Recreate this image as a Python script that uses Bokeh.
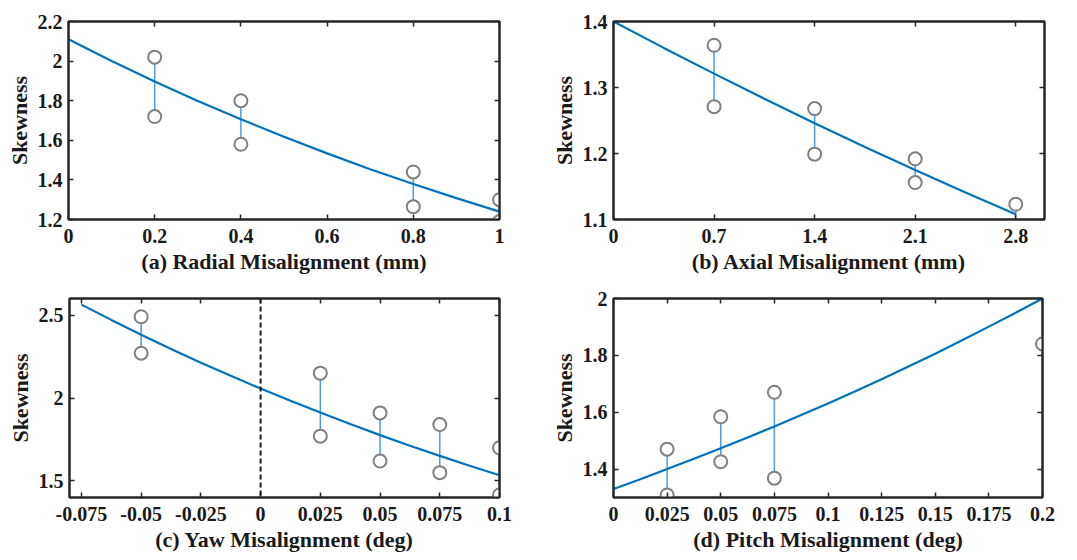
from bokeh.plotting import figure
from bokeh.models import LinearAxis, FixedTicker, Span, Range1d, CustomLabelingPolicy
from bokeh.layouts import column, row
from bokeh.embed import file_html
from bokeh.resources import INLINE

# ---------------- data ----------------
# (a) Radial misalignment
radial_x = [0.2, 0.4, 0.8, 1.0]
radial_upper = [2.02, 1.80, 1.44, 1.30]
radial_lower = [1.72, 1.58, 1.265, 1.19]
radial_fit_x = [0.0, 0.1, 0.2, 0.3, 0.4, 0.5, 0.6, 0.7, 0.8, 0.9, 1.0]
radial_fit_y = [2.110, 2.001, 1.897, 1.799, 1.706, 1.618, 1.534, 1.454, 1.379, 1.308, 1.240]
radial_xticks = [0, 0.2, 0.4, 0.6, 0.8, 1]
radial_xlabels = ["0", "0.2", "0.4", "0.6", "0.8", "1"]
radial_yticks = [1.2, 1.4, 1.6, 1.8, 2.0, 2.2]
radial_ylabels = ["1.2", "1.4", "1.6", "1.8", "2", "2.2"]

# (b) Axial misalignment
axial_x = [0.7, 1.4, 2.1, 2.8]
axial_upper = [1.364, 1.268, 1.192, 1.123]
axial_lower = [1.271, 1.199, 1.156, 1.078]
axial_fit_x = [0.0, 0.35, 0.7, 1.05, 1.4, 1.75, 2.1, 2.45, 2.8]
axial_fit_y = [1.400, 1.360, 1.321, 1.283, 1.246, 1.210, 1.175, 1.141, 1.108]
axial_xticks = [0, 0.7, 1.4, 2.1, 2.8]
axial_xlabels = ["0", "0.7", "1.4", "2.1", "2.8"]
axial_yticks = [1.1, 1.2, 1.3, 1.4]
axial_ylabels = ["1.1", "1.2", "1.3", "1.4"]

# (c) Yaw misalignment
yaw_x = [-0.05, 0.025, 0.05, 0.075, 0.1]
yaw_upper = [2.49, 2.15, 1.91, 1.84, 1.70]
yaw_lower = [2.27, 1.77, 1.62, 1.55, 1.415]
yaw_fit_x = [-0.075, -0.0625, -0.05, -0.0375, -0.025, -0.0125, 0.0, 0.0125,
             0.025, 0.0375, 0.05, 0.0625, 0.075, 0.0875, 0.1]
yaw_fit_y = [2.563, 2.471, 2.382, 2.296, 2.213, 2.134, 2.057, 1.983,
             1.912, 1.843, 1.776, 1.712, 1.651, 1.591, 1.534]
yaw_ref = 0.0
yaw_xticks = [-0.075, -0.05, -0.025, 0, 0.025, 0.05, 0.075, 0.1]
yaw_xlabels = ["-0.075", "-0.05", "-0.025", "0", "0.025", "0.05", "0.075", "0.1"]
yaw_yticks = [1.5, 2.0, 2.5]
yaw_ylabels = ["1.5", "2", "2.5"]

# (d) Pitch misalignment
pitch_x = [0.025, 0.05, 0.075, 0.2]
pitch_upper = [1.47, 1.584, 1.67, 2.055]
pitch_lower = [1.309, 1.426, 1.368, 1.84]
pitch_fit_x = [0.0, 0.0125, 0.025, 0.0375, 0.05, 0.0625, 0.075, 0.0875, 0.1,
               0.1125, 0.125, 0.1375, 0.15, 0.1625, 0.175, 0.1875, 0.2]
pitch_fit_y = [1.330, 1.364, 1.400, 1.436, 1.473, 1.511, 1.550, 1.590, 1.631,
               1.673, 1.716, 1.761, 1.806, 1.853, 1.901, 1.950, 2.000]
pitch_xticks = [0, 0.025, 0.05, 0.075, 0.1, 0.125, 0.15, 0.175, 0.2]
pitch_xlabels = ["0", "0.025", "0.05", "0.075", "0.1", "0.125", "0.15", "0.175", "0.2"]
pitch_yticks = [1.4, 1.6, 1.8, 2.0]
pitch_ylabels = ["1.4", "1.6", "1.8", "2"]

FONT = "Liberation Serif"
AX_COLOR = "#262626"
FIT_COLOR = "#0072BD"
BAR_COLOR = "#4d9be3"
CIRC_COLOR = "#808080"
TICK_FS = "20px"
LABEL_FS = "22px"


def style_axis(ax, ticks, labels, show_labels, label_text=None):
    ax.ticker = FixedTicker(ticks=ticks)
    ax.major_label_overrides = {t: l for t, l in zip(ticks, labels)}
    ax.minor_tick_line_color = None
    ax.major_tick_in = 5
    ax.major_tick_out = 0
    ax.major_tick_line_color = AX_COLOR
    ax.major_tick_line_width = 1.5
    ax.axis_line_color = AX_COLOR
    ax.axis_line_width = 2
    ax.major_label_text_font = FONT
    ax.major_label_text_font_style = "bold"
    ax.major_label_text_color = "#1a1a1a"
    if show_labels:
        ax.major_label_text_font_size = TICK_FS
    else:
        ax.major_label_text_font_size = "1px"
        ax.major_label_standoff = 0
        ax.major_label_policy = CustomLabelingPolicy(
            code="for (const i of indices) { indices.unset(i) }\nreturn indices")
    ax.axis_label = label_text
    ax.axis_label_text_font = FONT
    ax.axis_label_text_font_style = "bold"
    ax.axis_label_text_font_size = LABEL_FS
    ax.axis_label_text_color = "#1a1a1a"


def panel(xr, yr, xt, xl, yt, yl, xlabel, x, up, lo, fx, fy,
          w, h, bl, br, bt, bb):
    p = figure(width=w, height=h, output_backend="svg", toolbar_location=None,
               x_range=Range1d(*xr), y_range=Range1d(*yr),
               min_border_left=bl, min_border_right=br,
               min_border_top=bt, min_border_bottom=bb)
    p.grid.visible = False
    p.outline_line_color = AX_COLOR
    p.outline_line_width = 2
    p.background_fill_color = "white"
    p.border_fill_color = "white"
    style_axis(p.xaxis[0], xt, xl, True, xlabel)
    p.xaxis[0].major_label_standoff = 9
    p.xaxis[0].axis_label_standoff = 3
    style_axis(p.yaxis[0], yt, yl, True, "Skewness")
    p.yaxis[0].major_label_standoff = 6
    p.yaxis[0].axis_label_standoff = 3
    top = LinearAxis()
    style_axis(top, xt, xl, False)
    p.add_layout(top, "above")
    right = LinearAxis()
    style_axis(right, yt, yl, False)
    p.add_layout(right, "right")
    p.segment(x0=x, y0=lo, x1=x, y1=up, line_color=BAR_COLOR, line_width=1.5)
    p.line(fx, fy, line_color=FIT_COLOR, line_width=2.2)
    p.scatter(x + x, up + lo, size=13, marker="circle", line_color=CIRC_COLOR,
              line_width=2, fill_color="white")
    return p


pa = panel((0, 1), (1.2, 2.2), radial_xticks, radial_xlabels, radial_yticks, radial_ylabels,
           "(a) Radial Misalignment (mm)", radial_x, radial_upper, radial_lower,
           radial_fit_x, radial_fit_y, 538, 280, 68, 39, 17, 61)
pb = panel((0, 3), (1.1, 1.4), axial_xticks, axial_xlabels, axial_yticks, axial_ylabels,
           "(b) Axial Misalignment (mm)", axial_x, axial_upper, axial_lower,
           axial_fit_x, axial_fit_y, 539, 280, 75, 33, 21, 58)
pc = panel((-0.08, 0.1), (1.4, 2.6), yaw_xticks, yaw_xlabels, yaw_yticks, yaw_ylabels,
           "(c) Yaw Misalignment (deg)", yaw_x, yaw_upper, yaw_lower,
           yaw_fit_x, yaw_fit_y, 538, 280, 69, 39, 16, 63)
pc.add_layout(Span(location=yaw_ref, dimension="height", line_color="#1a1a1a",
                   line_width=2, line_dash="5 3"))
pd_ = panel((0, 0.2), (1.3, 2.0), pitch_xticks, pitch_xlabels, pitch_yticks, pitch_ylabels,
            "(d) Pitch Misalignment (deg)", pitch_x, pitch_upper, pitch_lower,
            pitch_fit_x, pitch_fit_y, 539, 280, 75, 35, 18, 60)

layout = column(row(pa, pb), row(pc, pd_))
open("out.html", "w").write(file_html(layout, INLINE))
